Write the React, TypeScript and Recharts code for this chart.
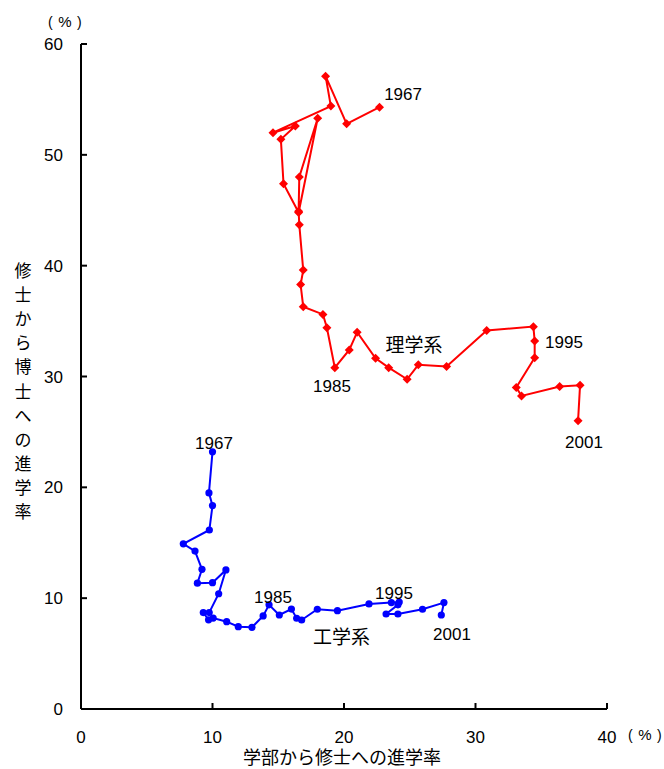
import React from 'react';
import { ScatterChart, Scatter, XAxis, YAxis } from 'recharts';

const scienceX = [22.7, 20.2, 18.6, 19.0, 14.6, 16.3, 15.2, 15.4, 16.55, 18.0, 16.6, 16.55, 16.6, 16.9, 16.7, 16.9, 18.4, 18.7, 19.3, 20.4, 21.0, 22.4, 23.4, 24.8, 25.65, 27.8, 30.85, 34.4, 34.5, 34.5, 33.1, 33.5, 36.4, 37.95, 37.8];
const scienceY = [54.3, 52.8, 57.1, 54.4, 52.0, 52.6, 51.4, 47.4, 44.8, 53.3, 48.0, 44.9, 43.7, 39.6, 38.3, 36.3, 35.6, 34.4, 30.8, 32.4, 34.0, 31.65, 30.8, 29.75, 31.05, 30.9, 34.15, 34.5, 33.2, 31.7, 29.0, 28.25, 29.1, 29.2, 26.0];

const engX = [10.0, 9.73, 10.0, 9.76, 7.78, 8.67, 9.2, 8.85, 10.0, 11.02, 10.47, 9.75, 9.3, 9.7, 10.05, 11.08, 11.96, 13.0, 13.85, 14.3, 15.08, 16.0, 16.4, 16.78, 17.97, 19.5, 21.9, 23.6, 24.2, 24.1, 23.2, 24.1, 25.97, 27.6, 27.4];
const engY = [23.2, 19.5, 18.35, 16.15, 14.9, 14.25, 12.6, 11.35, 11.4, 12.55, 10.4, 8.7, 8.7, 8.05, 8.2, 7.88, 7.43, 7.37, 8.4, 9.4, 8.48, 9.02, 8.19, 8.03, 9.0, 8.87, 9.48, 9.6, 9.65, 9.4, 8.57, 8.57, 9.0, 9.6, 8.48];

const xTicks = [0, 10, 20, 30, 40];
const yTicks = [0, 10, 20, 30, 40, 50, 60];

const annotationText = ['1967', '1985', '1995', '2001', '理学系', '1967', '1985', '1995', '2001', '工学系'];
const annotationX = [24.49, 19.09, 36.73, 38.25, 25.32, 10.11, 14.6, 23.8, 28.21, 19.81];
const annotationY = [55.49, 29.14, 33.11, 24.09, 32.8, 24.05, 10.15, 10.47, 6.77, 6.45];

const xTitle = '学部から修士への進学率';
const yTitle = '修士から博士への進学率';
const unitParts = ['(', '%', ')'];

const science = scienceX.map((x, i) => ({ x, y: scienceY[i] }));
const eng = engX.map((x, i) => ({ x, y: engY[i] }));
const annotations = annotationText.map((text, i) => ({ x: annotationX[i], y: annotationY[i], text }));

const NUM_FONT = '"Liberation Sans", Arial, sans-serif';
const JP_FONT = '"Noto Sans CJK JP", "Liberation Sans", sans-serif';

const Diamond = (props: any) => {
  const { cx, cy } = props;
  const s = 4.5;
  return <path d={`M${cx},${cy - s}L${cx + s},${cy}L${cx},${cy + s}L${cx - s},${cy}Z`} fill="#ff0000" />;
};

const Dot = (props: any) => {
  const { cx, cy } = props;
  return <circle cx={cx} cy={cy} r={3.6} fill="#0000ff" />;
};

const AnnText = (props: any) => {
  const { cx, cy, payload } = props;
  const jp = /[^0-9]/.test(payload.text);
  return (
    <text x={cx} y={cy} dy="0.36em" textAnchor="middle" fontSize={jp ? 19 : 17} fontFamily={jp ? JP_FONT : NUM_FONT} fill="#000">
      {payload.text}
    </text>
  );
};

const Unit = ({ left, baseline }: { left: number; baseline: number }) => (
  <g fontFamily={NUM_FONT} fill="#000">
    <text x={left} y={baseline} fontSize={14}>{unitParts[0]}</text>
    <text x={left + 17} y={baseline} fontSize={15} textAnchor="middle">{unitParts[1]}</text>
    <text x={left + 29} y={baseline} fontSize={14}>{unitParts[2]}</text>
  </g>
);

const XLabel = (props: any) => {
  const vb = props.viewBox || {};
  const cx = vb.x + vb.width / 2;
  return (
    <g>
      <text x={cx - 2} y={764} textAnchor="middle" fontSize={18} fontFamily={JP_FONT} fill="#000">{xTitle}</text>
      <Unit left={628} baseline={740} />
    </g>
  );
};

const YLabel = () => {
  const chars = yTitle.split('');
  return (
    <g>
      <Unit left={48} baseline={27} />
      <text fontSize={17} fontFamily={JP_FONT} fill="#000" textAnchor="middle">
        {chars.map((c, i) => (
          <tspan key={i} x={23} y={277 + i * 24.1}>{c}</tspan>
        ))}
      </text>
    </g>
  );
};

export default function App() {
  return (
    <div style={{ position: 'absolute', left: 0, top: 0, background: '#fff' }}>
      <ScatterChart width={664} height={769} margin={{ top: 44, right: 57, left: 0, bottom: 0 }}>
        <XAxis
          type="number"
          dataKey="x"
          domain={[0, 40]}
          ticks={xTicks}
          height={60}
          axisLine={{ stroke: '#000', strokeWidth: 2 }}
          tickLine={{ stroke: '#000', strokeWidth: 2 }}
          tickSize={-6}
          tickMargin={28}
          tick={{ fill: '#000', fontSize: 17, fontFamily: NUM_FONT }}
          label={<XLabel />}
          allowDataOverflow
        />
        <YAxis
          type="number"
          dataKey="y"
          domain={[0, 60]}
          ticks={yTicks}
          width={81}
          axisLine={{ stroke: '#000', strokeWidth: 2 }}
          tickLine={{ stroke: '#000', strokeWidth: 2 }}
          tickSize={-6}
          tickMargin={24}
          tick={{ fill: '#000', fontSize: 17, fontFamily: NUM_FONT }}
          label={<YLabel />}
          allowDataOverflow
        />
        <Scatter data={science} line={{ stroke: '#ff0000', strokeWidth: 2 }} lineType="joint" shape={<Diamond />} isAnimationActive={false} />
        <Scatter data={eng} line={{ stroke: '#0000ff', strokeWidth: 2 }} lineType="joint" shape={<Dot />} isAnimationActive={false} />
        <Scatter data={annotations} shape={<AnnText />} isAnimationActive={false} />
      </ScatterChart>
    </div>
  );
}
